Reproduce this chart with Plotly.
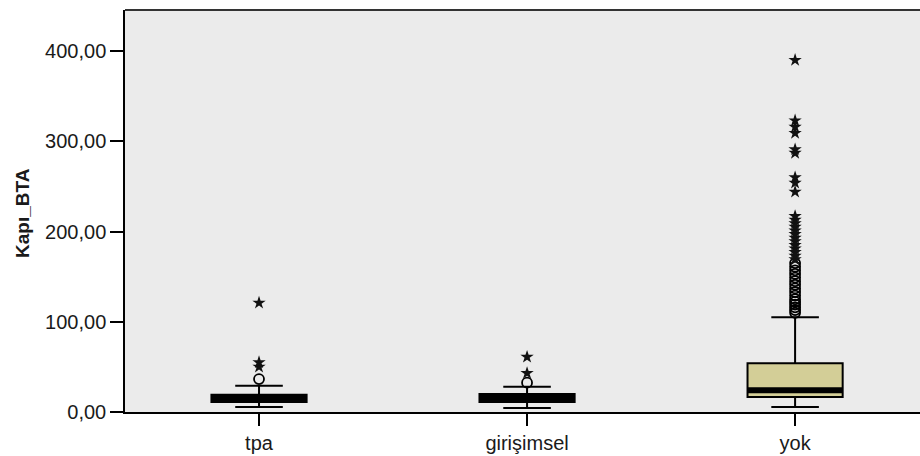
import plotly.graph_objects as go

categories = ["tpa", "girişimsel", "yok"]
q1 = [11.0, 11.0, 16.5]
median = [15.5, 15.5, 24.0]
q3 = [19.0, 20.0, 54.0]
lower_whisker = [5.5, 4.5, 5.5]
upper_whisker = [29.0, 28.0, 105.0]

circle_outliers = {
    "tpa": [36.5],
    "girişimsel": [32.5],
    "yok": [110, 113, 116, 119, 122, 125, 129, 133, 137, 141, 145, 149, 153, 157, 161, 165],
}
star_outliers = {
    "tpa": [50, 55, 121],
    "girişimsel": [43, 61],
    "yok": [169, 173, 177, 181, 185, 189, 193, 197, 201, 205, 209, 213, 217,
            244, 254, 260, 287, 291, 309, 316, 323, 390],
}

y_tick_vals = [0, 100, 200, 300, 400]
y_tick_text = ["0,00", "100,00", "200,00", "300,00", "400,00"]
y_title = "Kapı_BTA"

FILL = "#D3CE97"
BG = "#EBEBEB"
FONT = "Liberation Sans, Arial, sans-serif"
BOX_W = 0.355

fig = go.Figure()

fig.add_trace(go.Box(
    x=categories, q1=q1, median=median, q3=q3,
    lowerfence=lower_whisker, upperfence=upper_whisker,
    fillcolor=FILL, line=dict(color="black", width=2),
    width=BOX_W, whiskerwidth=0.5, boxpoints=False, showlegend=False,
    hoverinfo="skip",
))
# thick median line (degenerate box)
fig.add_trace(go.Box(
    x=categories, q1=median, median=median, q3=median,
    lowerfence=median, upperfence=median,
    fillcolor="black", line=dict(color="black", width=6),
    width=BOX_W, whiskerwidth=0, boxpoints=False, showlegend=False,
    hoverinfo="skip",
))

cx, cy = [], []
for c in categories:
    for v in circle_outliers[c]:
        cx.append(c); cy.append(v)
sx, sy = [], []
for c in categories:
    for v in star_outliers[c]:
        sx.append(c); sy.append(v)

fig.add_trace(go.Scatter(
    x=cx, y=cy, mode="markers", showlegend=False,
    marker=dict(symbol="circle-open", size=10, color="black", line=dict(width=1.8, color="black")),
))
fig.add_trace(go.Scatter(
    x=sx, y=sy, mode="markers", showlegend=False,
    marker=dict(symbol="star", size=10, color="#111111", line=dict(width=0)),
))

fig.update_layout(
    width=920, height=456,
    margin=dict(l=125, r=0, t=10, b=44),
    paper_bgcolor="white", plot_bgcolor=BG,
    font=dict(family=FONT, size=20, color="#1a1a1a"),
    xaxis=dict(
        type="category", categoryorder="array", categoryarray=categories,
        range=[-0.5, 2.466],
        showline=True, linecolor="black", linewidth=1.5,
        ticks="outside", ticklen=12, tickwidth=1.5, tickcolor="black",
        showgrid=False, zeroline=False,
        tickfont=dict(family=FONT, size=20, color="#1a1a1a"),
    ),
    yaxis=dict(
        range=[0, 445.5],
        tickvals=y_tick_vals, ticktext=y_tick_text,
        showline=True, linecolor="black", linewidth=1.5,
        ticks="outside", ticklen=13, tickwidth=1.5, tickcolor="black",
        showgrid=False, zeroline=False,
        tickfont=dict(family=FONT, size=20, color="#1a1a1a"),
    ),
    annotations=[dict(
        text="<b>" + y_title + "</b>", textangle=-90,
        xref="paper", yref="paper", x=(22 - 125) / 795, y=0.495,
        xanchor="center", yanchor="middle", showarrow=False,
        font=dict(family=FONT, size=19, color="#1a1a1a"),
    )],
    shapes=[dict(type="line", xref="paper", yref="paper", x0=0, x1=1, y0=1, y1=1,
                 line=dict(color="#333333", width=2))],
)

fig.write_html("out.html")
